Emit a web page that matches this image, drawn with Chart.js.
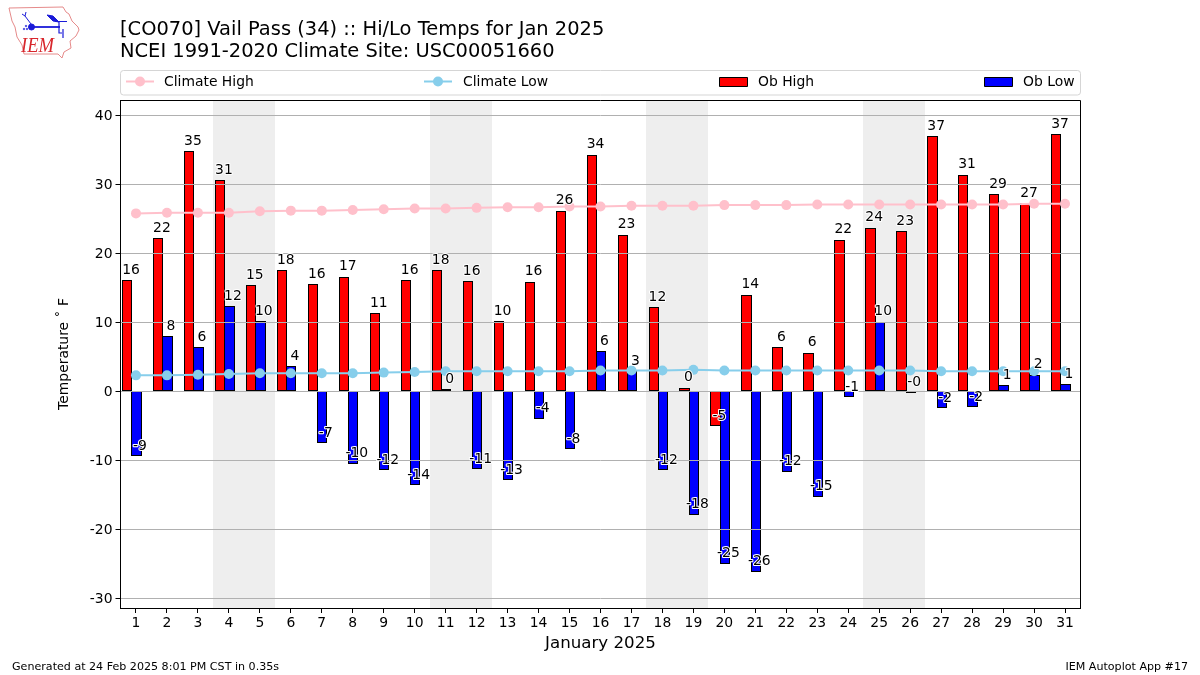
<!DOCTYPE html>
<html>
<head>
<meta charset="utf-8">
<style>
html,body{margin:0;padding:0;background:#fff;width:1200px;height:675px;overflow:hidden}
#wrap{position:relative;width:1200px;height:675px}
canvas{position:absolute;left:0;top:0}
svg{position:absolute;left:0;top:0}
</style>
<script src="https://cdn.jsdelivr.net/npm/chart.js@4"></script>
</head>
<body>
<div id="wrap">
<canvas id="c" width="1200" height="675"></canvas>
<svg width="90" height="62" viewBox="0 0 90 62">
  <path d="M9 8 L63 7 L66 12 L69 14 L72 21 L78 27 L79 30 L76 36 L70 41 L71 48 L64 52 L62 58 L58 54 L24 54 L22 45 L17 37 L15 27 L12 21 Z" fill="#fff" stroke="#e58a8a" stroke-width="1"/>
  <g stroke="#1a1ad8" fill="#1a1ad8">
    <path d="M32 27 L60 27" stroke-width="1.8"/>
    <circle cx="31.5" cy="27" r="3"/>
    <path d="M31 24 L25 16 M25 16 L26 12 M25 16 L22 14" stroke-width="1" fill="none"/>
    <path d="M47 15 L53 16 L59 22 L53 21 Z" stroke-width="1"/>
    <path d="M55 21.5 L67 21.5" stroke-width="1"/>
    <path d="M59 22 L59 33 L62 33 M63 29 L63 38" stroke-width="1.2" fill="none"/>
    <circle cx="26" cy="26" r="0.8" stroke-width="0.5"/>
    <circle cx="24" cy="29" r="0.8" stroke-width="0.5"/>
    <circle cx="27" cy="29" r="0.8" stroke-width="0.5"/>
  </g>
  <text x="21" y="52" font-family="Liberation Serif" font-style="italic" font-size="21" fill="#d8262c" textLength="33" lengthAdjust="spacingAndGlyphs">IEM</text>
</svg>
</div>
<script>
const dayLabels = ["1","2","3","4","5","6","7","8","9","10","11","12","13","14","15","16","17","18","19","20","21","22","23","24","25","26","27","28","29","30","31"];
const obHigh = [16.1,22.2,34.8,30.6,15.4,17.6,15.5,16.6,11.3,16.1,17.6,16.0,10.2,15.9,26.2,34.3,22.7,12.2,0.5,-5.1,14.0,6.4,5.6,22.0,23.7,23.2,37.0,31.4,28.6,27.3,37.3];
const obLow = [-9.4,8.0,6.4,12.3,10.2,3.6,-7.5,-10.5,-11.5,-13.6,0.3,-11.3,-12.9,-4.0,-8.4,5.8,2.9,-11.5,-17.9,-25.0,-26.2,-11.7,-15.3,-0.9,10.1,-0.2,-2.5,-2.3,0.9,2.4,1.0];
const climateHigh = [25.8,25.9,25.9,25.9,26.1,26.2,26.2,26.3,26.4,26.5,26.5,26.6,26.7,26.7,26.8,26.8,26.9,26.9,26.9,27.0,27.0,27.0,27.1,27.1,27.1,27.1,27.1,27.1,27.1,27.2,27.2];
const climateLow = [2.3,2.3,2.4,2.5,2.6,2.6,2.6,2.6,2.7,2.8,2.9,2.9,2.9,2.9,2.9,3.0,3.0,3.0,3.1,3.0,3.0,3.0,3.0,3.0,3.0,3.0,2.9,2.9,2.9,2.9,2.9];
const obHighLabels = ["16","22","35","31","15","18","16","17","11","16","18","16","10","16","26","34","23","12","0","-5","14","6","6","22","24","23","37","31","29","27","37"];
const obLowLabels = ["-9","8","6","12","10","4","-7","-10","-12","-14","0","-11","-13","-4","-8","6","3","-12","-18","-25","-26","-12","-15","-1","10","-0","-2","-2","1","2","1"];
const weekendDays = [[4,5],[11,12],[18,19],[25,26]];
const yTickValues = [-30,-20,-10,0,10,20,30,40];
const titleLines = ["[CO070] Vail Pass (34) :: Hi/Lo Temps for Jan 2025","NCEI 1991-2020 Climate Site: USC00051660"];
const footerLeft = "Generated at 24 Feb 2025 8:01 PM CST in 0.35s";
const footerRight = "IEM Autoplot App #17";
const FONT = '"DejaVu Sans"';

const decor = {
  id:'decor',
  // snap the bar rectangles the library computed to whole pixels, so their edges stay crisp
  afterDatasetsUpdate(chart){
    chart.getSortedVisibleDatasetMetas().forEach(meta=>{
      if(meta.type!=='bar') return;
      meta.data.forEach(el=>{
        const l=Math.round(el.x-el.width/2), r=Math.round(el.x+el.width/2)+1;
        el.x=(l+r)/2; el.width=r-l;
        const neg=el.y>el.base;
        el.y=Math.round(el.y);
        el.base=neg?Math.floor(el.base):Math.ceil(el.base);
        el.height=Math.abs(el.base-el.y);
      });
    });
  },
  beforeDraw(chart){
    const {ctx,chartArea:a,scales:{x}} = chart;
    ctx.save();
    ctx.fillStyle='#fff';ctx.fillRect(0,0,1200,675);
    ctx.fillStyle='#eeeeee';
    weekendDays.forEach(([s,e])=>{
      const l=Math.floor(x.getPixelForValue(s-1)-x.width/62), r=Math.floor(x.getPixelForValue(e-1)+x.width/62);
      ctx.fillRect(l,a.top,r-l,a.bottom-a.top);
    });
    ctx.restore();
  },
  // gridlines sit above the bars but below the climate lines
  beforeDatasetDraw(chart,args){
    if(args.index!==1) return;
    const {ctx,chartArea:a,scales:{y}} = chart;
    ctx.save();
    ctx.strokeStyle='#b0b0b0';ctx.lineWidth=1;
    yTickValues.forEach(v=>{
      const py=Math.floor(y.getPixelForValue(v))+.5;
      ctx.beginPath();ctx.moveTo(a.left,py);ctx.lineTo(a.right,py);ctx.stroke();
    });
    ctx.restore();
  },
  afterDatasetsDraw(chart){
    const {ctx,chartArea:a,scales:{x,y}} = chart;
    ctx.save();
    // value labels
    ctx.font='13.9px '+FONT;ctx.textAlign='center';ctx.textBaseline='middle';ctx.lineJoin='round';
    const put=(vals,labs,shift)=>vals.forEach((v,i)=>{
      const px=x.getPixelForValue(i)+shift, py=y.getPixelForValue(v)-10;
      ctx.strokeStyle='#fff';ctx.lineWidth=2;ctx.strokeText(labs[i],px,py);
      ctx.fillStyle='#000';ctx.fillText(labs[i],px,py);
    });
    put(obHigh,obHighLabels,-5);
    put(obLow,obLowLabels,4);
    // spines
    ctx.strokeStyle='#000';ctx.lineWidth=1;
    ctx.strokeRect(120.5,100.5,960,508);
    // titles
    ctx.textBaseline='alphabetic';ctx.textAlign='left';ctx.fillStyle='#000';
    ctx.font='19.44px '+FONT;
    ctx.fillText(titleLines[0],120,35);
    ctx.fillText(titleLines[1],120,57);
    // footers
    ctx.font='11.1px '+FONT;
    ctx.fillText(footerLeft,12,670);
    ctx.textAlign='right';
    ctx.fillText(footerRight,1188,670);
    // legend
    ctx.strokeStyle='#d5d5d5';ctx.fillStyle='#fff';ctx.lineWidth=1;
    ctx.beginPath();ctx.roundRect(120.5,70.5,960,24.5,3);ctx.fill();ctx.stroke();
    const ds=chart.data.datasets;
    const items=[[ds[0],126,164],[ds[1],424,463],[ds[2],719,758],[ds[3],984,1023]];
    items.forEach(([d,hx,tx])=>{
      if(d.type==='line'){
        ctx.strokeStyle=d.borderColor;ctx.lineWidth=2;
        ctx.beginPath();ctx.moveTo(hx,81.5);ctx.lineTo(hx+28,81.5);ctx.stroke();
        ctx.fillStyle=d.borderColor;ctx.beginPath();ctx.arc(hx+14,81.5,5,0,Math.PI*2);ctx.fill();
      } else {
        ctx.fillStyle=d.backgroundColor;ctx.fillRect(hx+.5,77.5,28,9);
        ctx.strokeStyle='#000';ctx.lineWidth=1;ctx.strokeRect(hx+.5,77.5,28,9);
      }
      ctx.fillStyle='#000';ctx.textAlign='left';ctx.textBaseline='alphabetic';
      ctx.font='13.9px '+FONT;
      ctx.fillText(d.label,tx,86);
    });
    ctx.restore();
  }
};

new Chart(document.getElementById('c'),{
  data:{
    labels:dayLabels,
    datasets:[
      {type:'line',label:'Climate High',data:climateHigh,borderColor:'#FFC0CB',backgroundColor:'#FFC0CB',borderWidth:2,pointRadius:5,pointBorderWidth:0,pointBackgroundColor:'#FFC0CB',tension:0,order:0},
      {type:'line',label:'Climate Low',data:climateLow,borderColor:'#87CEEB',backgroundColor:'#87CEEB',borderWidth:2,pointRadius:5,pointBorderWidth:0,pointBackgroundColor:'#87CEEB',tension:0,order:0},
      {type:'bar',label:'Ob High',data:obHigh,backgroundColor:'#ff0000',borderColor:'#000',borderWidth:1,borderSkipped:false,order:1,categoryPercentage:0.9,barPercentage:1},
      {type:'bar',label:'Ob Low',data:obLow,backgroundColor:'#0000ff',borderColor:'#000',borderWidth:1,borderSkipped:false,order:1,categoryPercentage:0.9,barPercentage:1},
      {type:'bar',label:'',data:[],order:1,categoryPercentage:0.9,barPercentage:1}
    ]
  },
  options:{
    responsive:false,animation:false,
    layout:{padding:{left:0,right:119.5,top:100,bottom:0}},
    plugins:{legend:{display:false},title:{display:false},tooltip:{enabled:false}},
    scales:{
      x:{
        type:'category',offset:true,
        grid:{display:true,drawOnChartArea:false,drawTicks:true,tickLength:5,tickColor:'#000',offset:false},
        border:{display:true,color:'#000'},
        ticks:{color:'#000',font:{family:'DejaVu Sans',size:13.9},maxRotation:0,autoSkip:false,padding:2},
        title:{display:true,text:'January 2025',color:'#000',font:{family:'DejaVu Sans',size:16.67},padding:{top:5,bottom:21}},
        afterFit(s){s.height=67;}
      },
      y:{
        type:'linear',min:-31.45,max:42.25,
        afterBuildTicks(s){s.ticks=yTickValues.map(v=>({value:v}));},
        grid:{drawOnChartArea:false,drawTicks:true,tickLength:5,tickColor:'#000'},
        border:{display:true,color:'#000'},
        ticks:{color:'#000',font:{family:'DejaVu Sans',size:13.9},padding:3,labelOffset:1},
        title:{display:true,text:'Temperature ˚ F',color:'#000',font:{family:'DejaVu Sans',size:13.9},padding:{top:56,bottom:0}},
        afterFit(s){s.width=120.5;}
      }
    }
  },
  plugins:[decor]
});
</script>
</body>
</html>
